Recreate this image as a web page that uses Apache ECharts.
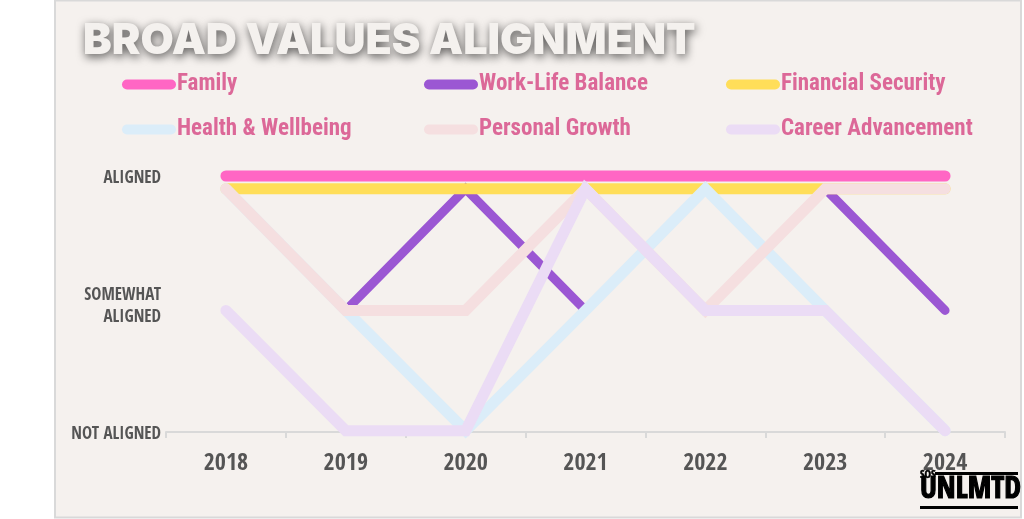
<!DOCTYPE html>
<html>
<head>
<meta charset="utf-8">
<script src="https://cdn.jsdelivr.net/npm/echarts@6/dist/echarts.min.js"></script>
<style>
html,body{margin:0;padding:0;background:#ffffff;}
#chart{width:1024px;height:519px;}
</style>
</head>
<body>
<div id="chart"></div>
<script>
var years = ['2018', '2019', '2020', '2021', '2022', '2023', '2024'];
var yTickLabels = ['NOT ALIGNED', 'SOMEWHAT\nALIGNED', 'ALIGNED'];

var family          = [2, 2, 2, 2, 2, 2, 2];
var workLife        = [1.9, 0.95, 1.9, 0.95, 1.9, 1.9, 0.95];
var financial       = [1.9, 1.9, 1.9, 1.9, 1.9, 1.9, 1.9];
var health          = [1.9, 0.95, 0.01, 0.95, 1.9, 0.95, 0.01];
var personalGrowth  = [1.9, 0.95, 0.95, 1.9, 0.95, 1.9, 1.9];
var career          = [0.95, 0.01, 0.01, 1.9, 0.95, 0.95, 0.01];

var seriesNames  = ['Family', 'Work-Life Balance', 'Financial Security', 'Health & Wellbeing', 'Personal Growth', 'Career Advancement'];
var seriesData   = [family, workLife, financial, health, personalGrowth, career];
var seriesColors = ['#ff66c4', '#9b57d3', '#ffde59', '#dbedf9', '#f5dfe0', '#ebdcf5'];
var seriesWidths = [11, 9, 11, 11, 11, 11];

var chart = echarts.init(document.getElementById('chart'));

var cond = '"Open Sans Condensed", "Roboto Condensed", sans-serif';
var rcond = '"Roboto Condensed", "Open Sans Condensed", sans-serif';

var series = seriesNames.map(function (name, i) {
  return {
    name: name,
    type: 'line',
    data: seriesData[i],
    symbol: 'none',
    clip: false,
    color: seriesColors[i],
    itemStyle: { color: seriesColors[i] },
    lineStyle: { color: seriesColors[i], width: seriesWidths[i], cap: 'round', join: 'miter' },
    emphasis: { disabled: true },
    animation: false
  };
});

var option = {
  backgroundColor: '#ffffff',
  animation: false,
  graphic: [
    { type: 'rect', z: -10, silent: true, shape: { x: 55, y: 0.5, width: 966, height: 517 },
      style: { fill: '#f5f1ee', stroke: '#d9d9d9', lineWidth: 2 } },
    { type: 'text', z: 100, x: 920, y: 475, silent: true,
      style: { text: 'SOS', fill: '#000', stroke: '#000', lineWidth: 0.5, font: 'bold 11px ' + cond, verticalAlign: 'middle' } },
    { type: 'rect', z: 100, silent: true, shape: { x: 935, y: 472, width: 83, height: 3 }, style: { fill: '#000' } },
    { type: 'text', z: 100, x: 920, y: 490, silent: true,
      style: { text: 'UNLMTD', fill: '#000', stroke: '#000', lineWidth: 1.2, font: 'bold 30px ' + cond, verticalAlign: 'middle' } },
    { type: 'rect', z: 100, silent: true, shape: { x: 920, y: 506, width: 98, height: 3 }, style: { fill: '#000' } }
  ],
  title: {
    text: 'BROAD VALUES ALIGNMENT',
    left: 78,
    top: 15,
    textStyle: {
      fontFamily: 'Inter, sans-serif',
      fontWeight: 900,
      fontSize: 43,
      color: '#f4f1ee',
      textShadowColor: 'rgba(0,0,0,0.65)',
      textShadowBlur: 10,
      textShadowOffsetX: 1,
      textShadowOffsetY: 3
    }
  },
  legend: {
    data: seriesNames,
    left: 117,
    top: 62,
    width: 930,
    orient: 'horizontal',
    itemGap: 10,
    itemWidth: 54,
    itemHeight: 10,
    icon: 'path://M5,0 L49,0 A5,5 0 0 1 49,10 L5,10 A5,5 0 0 1 5,0 Z',
    selectedMode: false,
    textStyle: {
      fontFamily: rcond,
      fontWeight: 'bold',
      fontSize: 23,
      color: '#dc6898',
      width: 237,
      lineHeight: 35,
      padding: [0, 0, 0, -4]
    }
  },
  grid: { left: 166, right: 19, top: 176, bottom: 87, containLabel: false },
  xAxis: {
    type: 'category',
    data: years,
    boundaryGap: true,
    axisLine: { show: true, lineStyle: { color: '#d9d9d9', width: 2 } },
    axisTick: { show: true, length: 6, lineStyle: { color: '#d9d9d9', width: 2 } },
    axisLabel: { fontFamily: cond, fontWeight: 'bold', fontSize: 24, color: '#555555', margin: 20 },
    splitLine: { show: false }
  },
  yAxis: {
    type: 'value',
    min: 0,
    max: 2,
    interval: 1,
    axisLine: { show: false },
    axisTick: { show: false },
    splitLine: { show: false },
    axisLabel: {
      margin: 5,
      color: '#555555',
      align: 'right',
      formatter: function (v) {
        return yTickLabels[Math.round(v)].split('\n').map(function (s) { return '{l|' + s + '}'; }).join('\n');
      },
      rich: {
        l: {
          fontFamily: cond,
          fontWeight: 'bold',
          fontSize: 17,
          lineHeight: 22,
          color: '#555555',
          padding: [5, 0, 0, 0]
        }
      }
    }
  },
  series: series
};

chart.setOption(option);
</script>
</body>
</html>
